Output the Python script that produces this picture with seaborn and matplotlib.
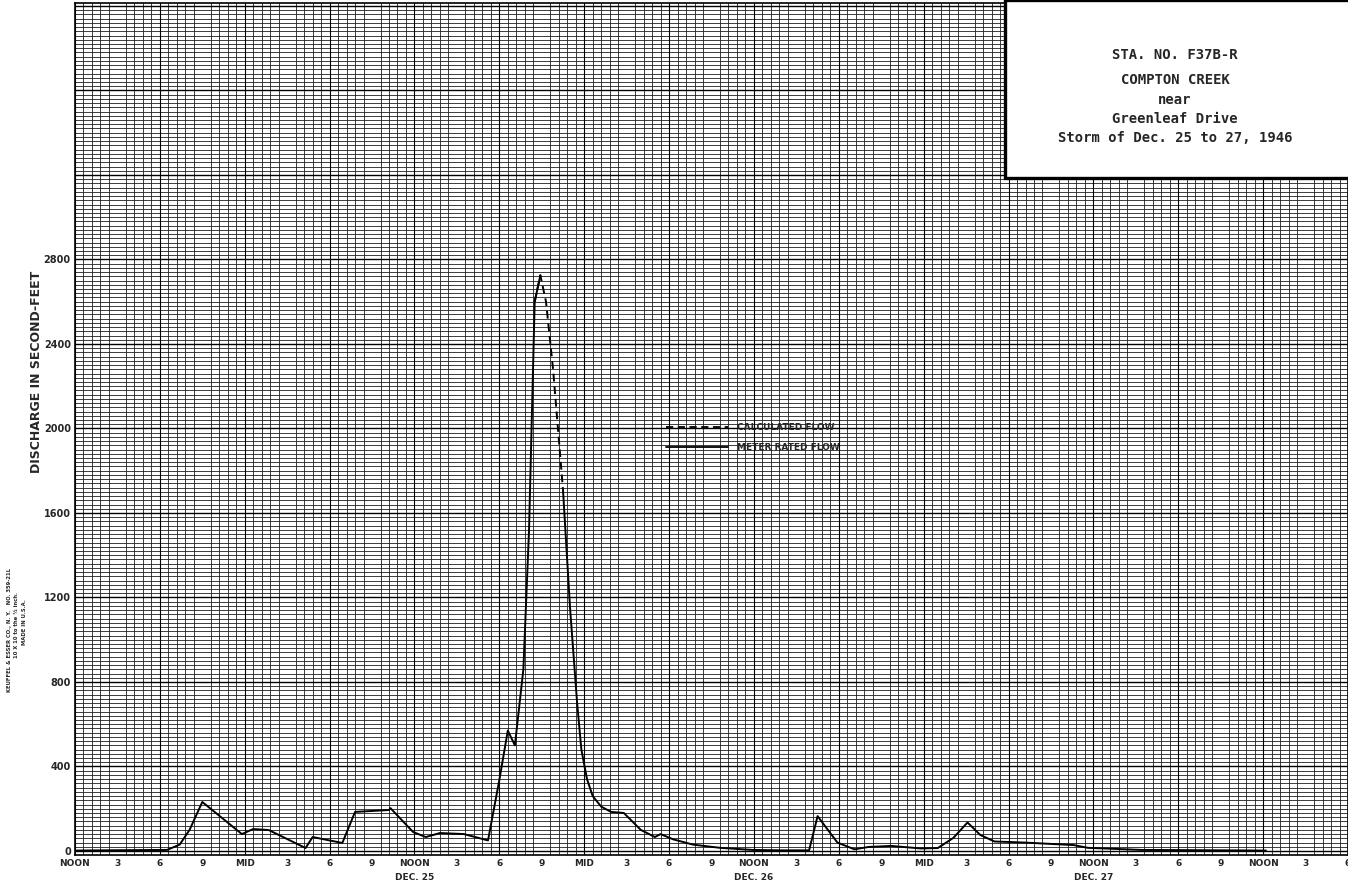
import matplotlib
matplotlib.use("Agg")
import matplotlib.pyplot as plt
import pandas as pd
import numpy as np
import seaborn as sns
from matplotlib.lines import Line2D
from matplotlib.patches import Rectangle
from matplotlib.ticker import MultipleLocator

# Horas desde el mediodía del 24 de diciembre
meter_hours = [0.0, 1.8, 6.5, 7.4, 8.1, 9.0, 11.8, 12.6, 13.7, 16.3, 16.8, 18.9, 19.8,
               22.2, 22.3, 23.9, 24.8, 25.8, 27.5, 29.2, 30.0, 30.6, 31.1, 31.7, 32.1,
               32.5, 32.9, 34.5, 35.0, 35.5, 35.8, 36.2, 36.6, 37.2, 37.9, 38.8, 40.0,
               41.0, 41.4, 42.3, 43.7, 45.6, 47.9, 49.9, 51.9, 52.5, 53.9, 55.1, 56.1,
               57.7, 59.8, 61.0, 62.1, 63.1, 64.0, 65.0, 67.1, 70.6, 71.6, 75.4, 84.2]
meter_cfs = [2, 3, 5, 30, 100, 232, 80, 104, 99, 14, 66, 38, 185,
             194, 203, 90, 66, 85, 80, 50, 336, 570, 500, 860, 1520,
             2600, 2725, 1710, 1150, 700, 480, 340, 260, 210, 185, 180, 100,
             66, 80, 55, 30, 15, 5, 3, 3, 165, 40, 8, 19,
             24, 12, 14, 62, 135, 76, 45, 40, 28, 15, 5, 2]

calc_hours = [32.5, 32.9, 33.3, 33.8, 34.5]
calc_cfs = [2600, 2725, 2600, 2280, 1710]

tick_hours = list(range(0, 91, 3))
tick_labels = ["NOON", "3", "6", "9", "MID", "3", "6", "9",
               "NOON", "3", "6", "9", "MID", "3", "6", "9",
               "NOON", "3", "6", "9", "MID", "3", "6", "9",
               "NOON", "3", "6", "9", "NOON", "3", "6"]
day_hours = [24, 48, 72]
day_labels = ["DEC. 25", "DEC. 26", "DEC. 27"]
y_ticks = list(range(0, 4001, 400))
y_labels = [str(v) if v <= 2800 else "" for v in y_ticks]

title_lines = ["STA. NO. F37B-R", "COMPTON CREEK", "near",
               "Greenleaf Drive", "Storm of Dec. 25 to 27, 1946"]

sns.set_theme(style="white")
plt.rcParams['font.family'] = ['DejaVu Sans']

W, H = 1348, 886
fig = plt.figure(figsize=(W / 100, H / 100), dpi=100)
ax = fig.add_axes([75 / W, 1 - 855 / H, 1 - 75 / W, (855 - 3) / H])

medidor = pd.DataFrame({"hora": meter_hours, "cfs": meter_cfs})
medidor["tramo"] = (medidor["hora"] > 33).astype(int)
calculado = pd.DataFrame({"hora": calc_hours, "cfs": calc_cfs})

sns.lineplot(data=medidor, x="hora", y="cfs", units="tramo", estimator=None,
             color="black", linewidth=1.4, ax=ax, zorder=4)
sns.lineplot(data=calculado, x="hora", y="cfs", color="black", linewidth=1.4,
             linestyle=(0, (4, 2.5)), ax=ax, zorder=4)

ax.set_xlim(0, 90)
ax.set_ylim(-19, 4014)

# papel milimetrado
ax.set_yticks(y_ticks)
ax.set_yticklabels(y_labels, fontsize=7, fontweight="bold")
ax.yaxis.set_minor_locator(MultipleLocator(20))
ax.set_xticks(tick_hours)
ax.set_xticklabels(tick_labels, fontsize=6.5, fontweight="bold")
ax.xaxis.set_minor_locator(MultipleLocator(0.6))
ax.tick_params(which="both", length=0, pad=3)
ax.grid(which="minor", color="#1e1e1e", linewidth=0.6)
ax.grid(which="major", axis="y", color="black", linewidth=1.0)
for h in range(0, 91, 6):
    ax.axvline(h, color="black", linewidth=0.8, zorder=1)
ax.set_axisbelow(True)
for s in ax.spines.values():
    s.set_color("black")
    s.set_linewidth(1.2)

ax.set_xlabel("")
ax.set_ylabel("")

for h, lab in zip(day_hours, day_labels):
    ax.text(h, -(878 - 855) / 852, lab, transform=ax.get_xaxis_transform(), ha="center",
            va="center", fontsize=6.5, fontweight="bold")

fig.text(37 / W, 1 - 372 / H, "DISCHARGE IN SECOND-FEET", rotation=90,
         ha="center", va="center", fontsize=9, fontweight="bold")
fig.text(10 / W, 1 - 630 / H, "KEUFFEL & ESSER CO., N. Y.   NO. 359-21L",
         rotation=90, ha="center", va="center", fontsize=3.8, fontweight="bold")
fig.text(17 / W, 1 - 625 / H, "10 X 10 to the \u00bd inch.",
         rotation=90, ha="center", va="center", fontsize=3.8, fontweight="bold")
fig.text(24 / W, 1 - 622 / H, "MADE IN U.S.A.",
         rotation=90, ha="center", va="center", fontsize=3.8, fontweight="bold")

handles = [Line2D([], [], color="black", linewidth=1.3, linestyle=(0, (4, 2.5))),
           Line2D([], [], color="black", linewidth=1.3)]
leg = ax.legend(handles, ["CALCULATED FLOW", "METER RATED FLOW"],
                loc="center left", bbox_to_anchor=(0.458, 0.49), frameon=False,
                handlelength=6.8, handletextpad=1.0, labelspacing=1.2,
                prop={"size": 6.5, "weight": "bold"})
leg.set_zorder(6)

fig.add_artist(Rectangle((1005 / W, 1 - 178 / H), (W - 1003) / W, 178 / H,
                         transform=fig.transFigure, facecolor="white",
                         edgecolor="black", linewidth=2.4, zorder=5))
for yy, line in zip([55, 80, 100, 119, 138], title_lines):
    fig.text(1175 / W, 1 - yy / H, line, ha="center", va="center",
             family="DejaVu Sans Mono", fontsize=10, fontweight="bold", zorder=6)

fig.savefig("out.png", dpi=100, facecolor="white")
